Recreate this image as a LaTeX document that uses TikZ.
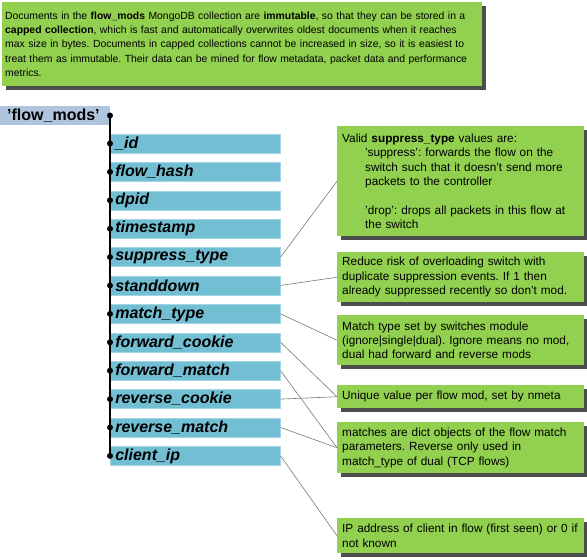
\documentclass[tikz,border=0pt]{standalone}
\usepackage{fontspec}
\setmainfont{Liberation Sans}
\usetikzlibrary{shadows}
\definecolor{notegreen}{RGB}{146,208,80}
\definecolor{fieldblue}{RGB}{114,190,210}
\definecolor{fieldedge}{RGB}{160,214,230}
\definecolor{labelblue}{RGB}{176,196,222}
\definecolor{shadowgray}{RGB}{77,77,77}
\definecolor{linkgray}{RGB}{120,120,120}
\begin{document}
\frenchspacing
\begin{tikzpicture}[x=1pt,y=-1pt,
  notebox/.style={fill=notegreen, draw=none, anchor=north west, minimum width=245pt,
    text width=237pt, inner xsep=5pt, inner ysep=0pt, align=left,
    font=\fontsize{11.8}{14.3}\selectfont\frenchspacing,
    drop shadow={shadow xshift=4pt, shadow yshift=-4pt, fill=shadowgray, opacity=1}},
  fieldbox/.style={fill=fieldblue, draw=fieldedge, line width=0.6pt, anchor=west,
    minimum width=170pt, minimum height=19pt, text width=160pt, inner xsep=5pt,
    inner ysep=0pt, align=left, font=\fontsize{16}{18}\selectfont\bfseries\itshape},
  dot/.style={circle, fill=black, inner sep=0pt, minimum size=6pt},
  link/.style={draw=linkgray, line width=0.6pt}
]
\useasboundingbox (0,0) rectangle (587,560);

% top note
\node[notebox, minimum width=478pt, minimum height=84pt, text width=474pt, inner xsep=3pt,
  font=\fontsize{10.4}{14.2}\selectfont\frenchspacing] (top) at (2,2)
{Documents in the \textbf{flow\_mods} MongoDB collection are \textbf{immutable}, so that they can be stored in a\\
\textbf{capped collection}, which is fast and automatically overwrites oldest documents when it reaches\\
max size in bytes. Documents in capped collections cannot be increased in size, so it is easiest to\\
treat them as immutable. Their data can be mined for flow metadata, packet data and performance\\
metrics.};

% root label
\node[fill=labelblue, anchor=north west, minimum width=110pt, minimum height=19pt,
  text width=96pt, inner xsep=7pt, inner ysep=0pt, align=left,
  font=\fontsize{16}{18}\selectfont\bfseries] (root) at (0,106) {'flow\_mods'};

% field boxes
\foreach \name/\txt [count=\i from 0] in {id/\_id, hash/flow\_hash, dpid/dpid, ts/timestamp,
  st/suppress\_type, sd/standdown, mt/match\_type, fc/forward\_cookie, fm/forward\_match,
  rc/reverse\_cookie, rm/reverse\_match, ip/client\_ip}{
  \node[fieldbox] (f\name) at (110,143.5+28.4*\i) {\txt};
}

% spine
\coordinate (top end) at (110,115.5);
\draw[line width=1.6pt] (top end) -- (110,455.9);
\node[dot] (d0) at (top end) {};
\foreach \name in {id,hash,dpid,ts,st,sd,mt,fc,fm,rc,rm,ip}{
  \node[dot] at (f\name.west) {};
}

% right notes
\node[notebox, minimum height=110pt] (n1) at (337,126)
{Valid \textbf{suppress\_type} values are:\\
\hspace*{23pt}'suppress': forwards the flow on the\\
\hspace*{23pt}switch such that it doesn't send more\\
\hspace*{23pt}packets to the controller\\[14.3pt]
\hspace*{23pt}'drop': drops all packets in this flow at\\
\hspace*{23pt}the switch};

\node[notebox, minimum height=50pt] (n2) at (337,252)
{Reduce risk of overloading switch with\\
duplicate suppression events. If 1 then\\
already suppressed recently so don't mod.};

\node[notebox, minimum height=50pt] (n3) at (337,315)
{Match type set by switches module\\
(ignore|single|dual). Ignore means no mod,\\
dual had forward and reverse mods};

\node[notebox, minimum height=23pt] (n4) at (337,385)
{Unique value per flow mod, set by nmeta};

\node[notebox, minimum height=51pt] (n5) at (337,422)
{matches are dict objects of the flow match\\
parameters. Reverse only used in\\
match\_type of dual (TCP flows)};

\node[notebox, minimum height=35pt] (n6) at (337,518)
{IP address of client in flow (first seen) or 0 if\\
not known};

% connectors
\draw[link] (fst.east) -- (n1.west);
\draw[link] (fsd.east) -- (n2.west);
\draw[link] (fmt.east) -- (n3.west);
\draw[link] (ffc.east) -- (n4.west);
\draw[link] (frc.east) -- (n4.west);
\draw[link] (ffm.east) -- (n5.west);
\draw[link] (frm.east) -- (n5.west);
\draw[link] (fip.east) -- (n6.west);
\end{tikzpicture}
\end{document}
